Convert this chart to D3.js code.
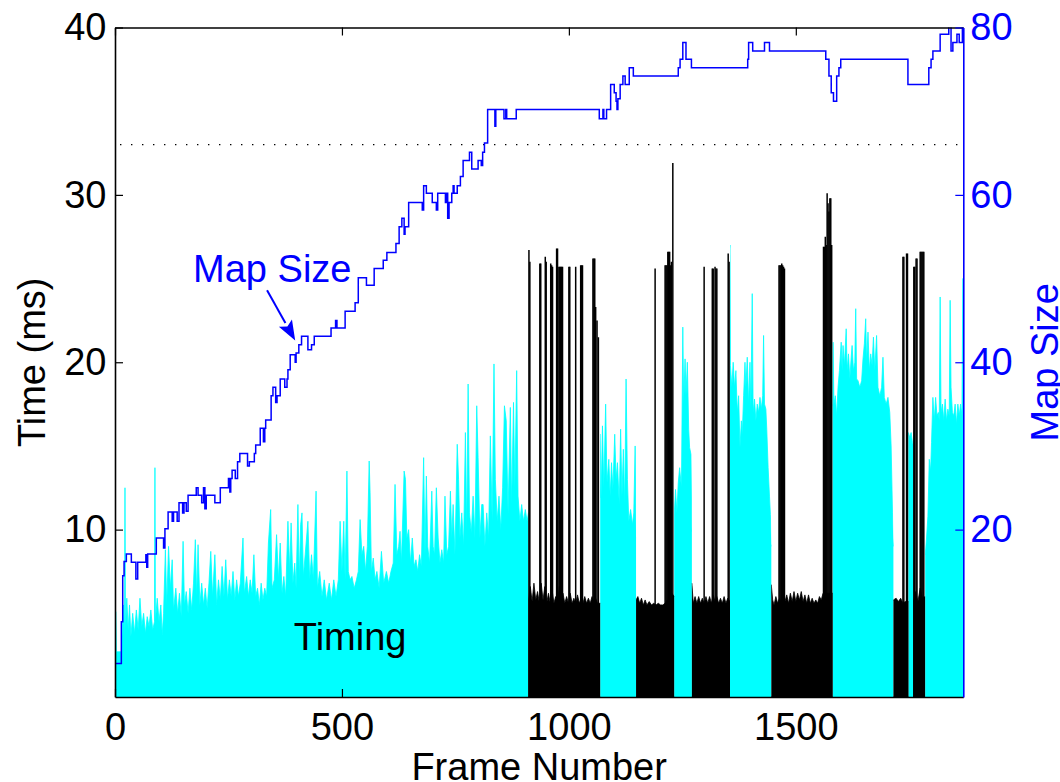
<!DOCTYPE html>
<html>
<head>
<meta charset="utf-8">
<script src="https://cdnjs.cloudflare.com/ajax/libs/d3/7.8.5/d3.min.js"></script>
<style>
  body { margin: 0; background: #fff; }
  svg text { font-family: "Liberation Sans", Arial, Helvetica, sans-serif; }
</style>
</head>
<body>
<svg id="chart" width="1060" height="782"></svg>
<script>
// ---- data (frame number, value) ----

// stretches of the timing trace drawn cyan / black
var cyanSegments = [[0, 911], [1069, 1148], [1232, 1271], [1355, 1446], [1581, 1715], [1748, 1759], [1785, 1869]];
var blackSegments = [[911, 1069], [1148, 1232], [1271, 1355], [1446, 1581], [1715, 1748], [1759, 1785]];

// cyan timing trace (ms), peaks and valleys
var cyanTiming = [
  [0,5.1],[2,5.1],[3,2.7],[14,2.7],[16,4],[19,5.5],[21,3.5],[22,12.5],[23,4],[26,5.9],[29,4],[32,5.5],[35,3.6],[39,5.0],
  [43,3.8],[47,5.2],[51,4],[55,5.9],[59,4.2],[63,5.0],[67,3.8],[71,4.8],[75,4.2],[79,5.2],[83,4.0],[87,4.5],[88,13.7],
  [89,4.5],[93,5.9],[97,4.5],[101,5.5],[104,3.7],[107,5.0],[111,8.8],[114,5.5],[118,9.0],[122,6.5],[126,8.2],[129,5.2],
  [134,6.5],[138,5.0],[142,6.2],[146,4.8],[150,9.3],[153,5.5],[157,6.3],[161,5.0],[165,6.5],[169,5.2],[173,6.8],[177,9.4],
  [180,6.0],[183,9.1],[187,5.5],[191,6.8],[195,5.5],[199,6.5],[203,5.3],[207,6.8],[211,8.7],[215,6.0],[220,8.5],[224,5.5],
  [228,7.0],[232,5.8],[236,7.8],[240,6.0],[244,8.2],[248,5.8],[252,7.0],[256,6.0],[260,7.5],[264,5.8],[268,7.0],[272,6.0],
  [276,6.8],[282,9.5],[285,6.2],[290,7.2],[294,6.0],[298,7.0],[302,6.2],[306,8.5],[310,6.0],[314,6.5],[318,5.5],[322,6.8],
  [326,5.8],[330,6.5],[334,6.0],[338,9.2],[343,11.2],[346,6.5],[351,7.0],[356,9.7],[360,7.0],[364,9.2],[368,6.2],[372,7.2],
  [376,6.0],[381,10.5],[385,7.5],[388,10.4],[392,6.8],[396,8.0],[399,6.5],[403,11.5],[406,7.0],[409,10.3],[412,11.0],
  [415,7.2],[419,8.5],[425,10.5],[429,7.0],[433,8.5],[437,7.0],[443,12.3],[446,6.5],[451,7.5],[456,6.0],[461,7.0],[466,5.8],
  [472,6.8],[477,5.8],[482,7.0],[487,6.0],[492,7.0],[496,10.5],[500,7.5],[504,10.5],[507,7.0],[511,13.5],[514,7.5],[518,7.0],
  [522,7.2],[527,6.5],[532,7.0],[536,7.5],[540,10.6],[544,8.5],[548,9.0],[552,7.5],[556,9.0],[560,14.1],[562,12.2],[565,7.5],
  [569,8.3],[573,7.0],[577,7.5],[582,6.5],[587,8.7],[592,6.8],[598,7.5],[603,6.8],[608,7.5],[613,8.0],[617,12.7],[621,8.5],
  [625,9.0],[628,9.9],[631,8.0],[637,13.5],[640,13.0],[643,9.5],[647,10.0],[651,8.0],[655,9.5],[659,7.8],[663,8.2],[667,7.5],
  [671,8.5],[675,7.8],[680,14.3],[683,8.5],[686,13.2],[689,9.0],[693,8.0],[698,12.3],[701,9.0],[704,8.5],[708,12.5],[712,9.5],
  [716,8.0],[720,8.8],[724,8.0],[727,12.0],[731,8.5],[735,9.0],[739,12.3],[742,9.5],[745,11.5],[749,8.5],[754,15.1],[757,13.0],
  [760,9.5],[764,11.0],[768,9.0],[772,15.8],[775,10.0],[778,18.7],[781,11.0],[785,9.8],[789,12.0],[793,9.5],[797,17.4],
  [800,14.3],[804,9.5],[808,11.5],[811,11.5],[815,9.0],[819,11.0],[823,9.5],[827,15.6],[831,10.5],[835,19.9],[838,13.0],
  [842,10.5],[846,12.0],[850,10.0],[854,12.5],[858,17.4],[862,16.5],[866,11.0],[871,17.3],[874,11.5],[878,17.6],[881,12.5],
  [885,19.5],[888,12.0],[892,10.5],[896,11.5],[900,10.5],[904,11.2],[908,10.5],[911,11.0],
  [1069,15.7],[1071,11.9],[1074,16.2],[1077,12.5],[1081,17.5],[1084,12.8],[1088,14.2],[1091,12.0],[1094,14.0],[1097,12.4],
  [1101,15.7],[1104,13.0],[1107,14.0],[1111,11.5],[1114,16.0],[1117,12.0],[1120,14.8],[1123,11.5],[1126,19.0],[1129,13.0],
  [1132,10.5],[1136,11.2],[1140,10.3],[1143,11.0],[1146,15.0],[1148,9.5],
  [1232,10.9],[1235,12.4],[1238,11.0],[1241,12.8],[1244,13.7],[1248,12.5],[1251,22.1],[1253,17.5],[1256,20.2],[1258,18.0],
  [1261,20.0],[1264,16.0],[1266,14.9],[1269,14.5],[1271,9.9],
  [1355,27.0],[1356,19.8],[1359,18.5],[1362,20.0],[1365,18.5],[1368,19.5],[1371,17.0],[1374,18.0],[1377,14.9],[1380,16.5],
  [1382,15.7],[1385,18.0],[1388,20.0],[1390,18.5],[1393,20.3],[1396,17.5],[1399,20.0],[1401,17.3],[1404,24.1],[1406,17.0],
  [1409,17.8],[1412,16.5],[1415,17.5],[1418,17.0],[1421,17.9],[1424,17.2],[1427,18.0],[1429,21.6],[1431,17.5],[1434,17.2],
  [1436,16.0],[1439,13.7],[1442,12.0],[1444,10.9],[1446,9.0],
  [1581,17.5],[1582,21.2],[1584,17.5],[1587,18.0],[1590,16.8],[1593,18.5],[1596,19.5],[1600,21.2],[1602,19.5],[1604,21.0],
  [1607,19.8],[1611,22.0],[1613,19.5],[1616,20.5],[1619,19.0],[1622,20.3],[1624,21.0],[1627,19.5],[1630,20.0],[1632,23.2],
  [1634,19.0],[1637,18.9],[1641,18.5],[1645,18.9],[1648,20.2],[1651,21.1],[1654,22.6],[1656,20.0],[1659,21.8],[1662,19.5],
  [1665,20.5],[1668,19.8],[1671,21.5],[1674,19.5],[1678,21.6],[1681,18.5],[1685,18.0],[1689,18.5],[1692,20.3],[1695,17.9],
  [1699,17.5],[1703,17.9],[1707,17.0],[1710,15.0],[1713,11.0],[1715,9.0],
  [1748,15.8],[1751,15.5],[1754,15.8],[1757,15.2],[1759,15.0],
  [1785,8.5],[1788,9.5],[1791,10.8],[1794,14.2],[1797,13.5],[1799,15.2],[1802,17.9],[1805,16.5],[1808,17.9],[1811,16.8],
  [1814,17.0],[1816,16.5],[1818,23.9],[1820,17.0],[1823,17.5],[1826,16.5],[1829,17.8],[1832,16.5],[1835,17.2],[1838,16.8],
  [1840,23.7],[1842,18.5],[1845,17.0],[1848,16.8],[1851,17.5],[1854,16.3],[1857,17.5],[1860,16.8],[1863,17.5],[1866,16.8],
  [1868,25.0],[1869,25.0]
];

// black timing trace (ms), dense floor
var blackTiming = [
  [911,5.8],[915,6.6],[919,5.7],[923,6.8],[927,5.8],[931,6.3],[935,5.6],[939,6.8],[943,5.8],[947,6.6],[951,5.6],[955,6.2],
  [959,5.6],[963,6.4],[967,5.6],[971,6.0],[975,5.6],[979,6.6],[983,5.7],[987,6.2],[991,5.6],[995,6.0],[999,5.6],[1003,6.2],
  [1007,5.6],[1011,5.9],[1015,5.6],[1019,6.1],[1023,5.6],[1027,5.9],[1031,5.6],[1035,6.0],[1039,5.6],[1043,5.9],[1047,5.6],
  [1051,6.0],[1055,5.7],[1059,5.9],[1063,5.6],[1069,5.6],
  [1148,5.8],[1152,6.0],[1156,5.6],[1160,5.9],[1164,5.5],[1168,5.8],[1172,5.5],[1177,5.7],[1182,5.5],[1187,5.6],[1192,5.5],
  [1197,5.6],[1202,5.5],[1207,5.5],[1212,5.6],[1217,5.8],[1222,5.7],[1227,6.2],[1232,6.0],
  [1271,6.8],[1274,5.6],[1278,6.0],[1282,5.6],[1286,6.0],[1290,5.6],[1294,5.9],[1298,5.6],[1302,6.0],[1306,5.6],[1310,6.0],
  [1314,5.6],[1318,6.1],[1322,5.7],[1326,6.0],[1330,5.6],[1334,5.9],[1338,5.6],[1342,6.0],[1346,5.6],[1350,5.9],[1355,5.7],
  [1446,6.7],[1449,5.8],[1452,5.5],[1456,6.0],[1460,5.6],[1464,5.9],[1468,5.6],[1472,6.0],[1476,5.7],[1480,6.1],[1484,5.6],
  [1488,6.2],[1492,5.7],[1496,6.3],[1500,5.7],[1504,6.2],[1508,5.8],[1512,6.3],[1516,5.7],[1520,6.1],[1524,5.6],[1528,6.1],
  [1532,5.6],[1536,5.9],[1540,5.6],[1544,5.8],[1548,5.6],[1552,6.0],[1556,5.8],[1560,6.2],[1581,6.2],
  [1715,5.8],[1721,5.9],[1726,5.7],[1731,5.9],[1736,5.6],[1741,5.7],[1748,5.7],
  [1759,5.7],[1764,6.3],[1769,5.7],[1774,6.5],[1779,5.9],[1785,6.0]
];

// tall black spikes (ms)
var blackSpikes = [
  [912,26.7],[914,26.0],[936,25.9],[938,25.9],[948,26.3],[950,26.0],[960,25.9],[962,25.8],[964,25.7],[973,26.8],[975,26.8],
  [978,25.7],[980,25.7],[982,25.7],[984,25.7],[986,25.7],[1000,25.7],[1002,25.7],[1015,25.7],[1026,25.8],[1028,25.8],
  [1030,25.8],[1053,26.2],[1055,26.2],[1057,26.2],[1059,23.3],[1062,22.5],[1065,21.5],
  [1190,25.6],[1212,25.8],[1214,25.8],[1216,25.8],[1218,26.6],[1220,26.6],[1222,26.6],[1224,25.8],[1226,26.0],[1229,31.9],
  [1298,25.7],[1316,25.6],[1318,25.6],[1322,25.7],[1324,25.6],[1326,25.6],[1351,26.5],[1353,26.0],
  [1463,25.8],[1465,25.8],[1467,25.8],[1469,25.9],[1471,25.8],[1473,25.7],[1475,25.6],
  [1561,26.9],[1563,26.9],[1565,27.5],[1567,27.0],[1569,30.1],[1571,29.5],[1573,29.0],[1575,29.8],[1577,29.8],[1579,27.0],
  [1736,26.3],[1738,26.3],[1744,26.5],[1746,26.5],
  [1760,25.7],[1762,25.7],[1765,26.2],[1767,26.2],[1774,26.6],[1776,26.6],[1778,26.6],[1780,26.6],[1782,26.6]
];

// map size, step changes (frame, size)
var mapSize = [
  [0,4.0],[14,9],[17,14.5],[20,16.2],[25,17.1],[36,16.1],[46,14.1],[50,16.1],[68,17.0],[70,15.5],[72,17.1],[91,19.0],
  [107,17.8],[110,20.1],[117,22.1],[126,21.0],[129,22.1],[137,21.0],[141,23.2],[149,22.0],[152,23.2],[157,22.2],[161,24.1],
  [179,25.0],[183,24.1],[191,23.2],[195,25.0],[198,22.5],[201,24.1],[220,23.2],[232,25.0],[250,26.1],[253,24.5],[255,26.1],
  [258,27.1],[265,26.1],[270,28.1],[275,29.1],[292,27.6],[296,28.1],[307,29.1],[310,30.1],[320,32.1],[327,30.5],[330,32.1],
  [332,33.1],[344,36.0],[348,37.0],[354,35.2],[357,36.0],[364,38.0],[374,37.0],[379,38.0],[381,39.1],[386,40.9],[397,40.0],
  [399,41.1],[405,42.1],[411,43.1],[425,41.5],[433,42.1],[439,43.1],[476,44.1],[486,45.0],[489,44.1],[507,46.1],[529,47.1],
  [536,50.1],[554,49.2],[571,51.2],[591,52.2],[599,53.1],[619,54.2],[626,56.2],[632,57.2],[637,55.3],[639,56.2],[647,59.1],
  [677,58.2],[680,61.1],[686,60.2],[699,59.1],[708,58.2],[711,60.2],[728,59.1],[730,60.2],[733,57.2],[736,59.1],[742,60.2],
  [745,61.1],[747,60.2],[754,61.1],[761,62.2],[767,64.1],[781,65.1],[786,63.1],[800,64.1],[807,63.5],[810,65.1],[814,66.2],
  [821,70.2],[837,68.2],[839,70.2],[857,69.1],[861,70.2],[863,69.1],[884,70.2],[1067,69.1],[1075,70.2],[1077,69.1],
  [1083,70.2],[1092,73.2],[1100,72.2],[1104,71.2],[1106,70.2],[1108,71.5],[1113,73.2],[1119,74.2],[1124,73.2],[1133,75.2],
  [1142,74.2],[1241,75.2],[1245,76.2],[1251,78.2],[1258,76.2],[1270,75.2],[1394,76.2],[1396,78.2],[1405,77.2],[1431,78.2],
  [1442,77.2],[1566,76.2],[1573,74.2],[1578,72.2],[1583,71.2],[1590,74.2],[1595,75.2],[1599,76.2],[1747,73.2],[1793,75.2],
  [1798,76.2],[1802,77.2],[1818,79.2],[1837,80.2],[1842,77.2],[1846,78.2],[1855,79.2],[1860,78.2],[1867,80],[1869,80]
];

var frameTicks = [0, 500, 1000, 1500];
var timeTicks = [10, 20, 30, 40];
var sizeTicks = [20, 40, 60, 80];
var frameBudget = 33;   // dotted reference line, ms

(function() {
    // ---- layout ----
    var plotLeft = 115, plotRight = 963.3, plotTop = 27.5, plotBottom = 697;
    var fontSize = "38px";

    var x = d3.scaleLinear().domain([0, 1869]).range([plotLeft, plotRight]);
    var yL = d3.scaleLinear().domain([0, 40]).range([plotBottom, plotTop]);
    var yR = d3.scaleLinear().domain([0, 80]).range([plotBottom, plotTop]);

    var svg = d3.select("#chart");
    var defs = svg.append("defs");

    defs.append("clipPath").attr("id", "plotClip")
        .append("rect")
        .attr("x", plotLeft).attr("y", plotTop)
        .attr("width", plotRight - plotLeft).attr("height", plotBottom - plotTop);

    function segmentClip(id, segs) {
        defs.append("clipPath").attr("id", id)
            .selectAll("rect")
            .data(segs)
            .enter()
            .append("rect")
            .attr("x", function(d) { return x(d[0]); })
            .attr("width", function(d) { return x(d[1]) - x(d[0]); })
            .attr("y", plotTop)
            .attr("height", plotBottom - plotTop);
    }
    segmentClip("cyanClip", cyanSegments);
    segmentClip("blackClip", blackSegments);

    var plot = svg.append("g").attr("clip-path", "url(#plotClip)");

    var timingArea = d3.area()
        .x(function(d) { return x(d[0]); })
        .y0(yL(0))
        .y1(function(d) { return yL(d[1]); });

    // cyan timing
    plot.append("g").attr("clip-path", "url(#cyanClip)")
        .append("path")
        .datum(cyanTiming)
        .attr("d", timingArea)
        .attr("fill", "#00ffff")
        .attr("stroke", "#00ffff")
        .attr("stroke-width", 0.8);

    // black timing floor
    plot.append("g").attr("clip-path", "url(#blackClip)")
        .append("path")
        .datum(blackTiming)
        .attr("d", timingArea)
        .attr("fill", "#000")
        .attr("stroke", "#000")
        .attr("stroke-width", 0.8);

    // black spikes
    plot.selectAll("line.spike")
        .data(blackSpikes)
        .enter()
        .append("line")
        .attr("class", "spike")
        .attr("x1", function(d) { return x(d[0]); })
        .attr("x2", function(d) { return x(d[0]); })
        .attr("y1", yL(0))
        .attr("y2", function(d) { return yL(d[1]); })
        .attr("stroke", "#000")
        .attr("stroke-width", 1.5);

    // dotted 33 ms line
    plot.append("line")
        .attr("x1", plotLeft).attr("x2", plotRight)
        .attr("y1", yL(frameBudget)).attr("y2", yL(frameBudget))
        .attr("stroke", "#000")
        .attr("stroke-width", 1.4)
        .attr("stroke-dasharray", "1.4,9.6")
        .attr("stroke-dashoffset", -5);

    // map size line
    var mapLine = d3.line()
        .x(function(d) { return x(d[0]); })
        .y(function(d) { return yR(d[1]); })
        .curve(d3.curveStepAfter);

    plot.append("path")
        .datum(mapSize)
        .attr("d", mapLine)
        .attr("fill", "none")
        .attr("stroke", "#0000ff")
        .attr("stroke-width", 1.5);

    // ---- axes ----
    function styleAxis(g, color) {
        g.select(".domain").attr("stroke", color).attr("stroke-width", 1.6);
        g.selectAll(".tick line").attr("stroke", color).attr("stroke-width", 1.2);
        g.selectAll(".tick text")
            .attr("fill", color)
            .attr("font-size", fontSize)
            .attr("font-family", '"Liberation Sans", Arial, Helvetica, sans-serif');
    }

    var fmt = d3.format("d");

    svg.append("g")
        .attr("transform", "translate(0," + plotBottom + ")")
        .call(d3.axisBottom(x).tickValues(frameTicks).tickFormat(fmt).tickSize(-8).tickSizeOuter(0).tickPadding(16))
        .call(styleAxis, "#000");

    svg.append("g")
        .attr("transform", "translate(0," + plotTop + ")")
        .call(d3.axisTop(x).tickValues(frameTicks).tickSize(-8).tickSizeOuter(0).tickFormat(""))
        .call(styleAxis, "#000");

    svg.append("g")
        .attr("transform", "translate(" + plotLeft + ",0)")
        .call(d3.axisLeft(yL).tickValues(timeTicks).tickFormat(fmt).tickSize(-8).tickSizeOuter(0).tickPadding(8.5))
        .call(styleAxis, "#000");

    svg.append("g")
        .attr("transform", "translate(" + plotRight + ",0)")
        .call(d3.axisRight(yR).tickValues(sizeTicks).tickFormat(fmt).tickSize(-8).tickSizeOuter(0).tickPadding(7))
        .call(styleAxis, "#0000ff");

    // ---- axis titles ----
    var midY = (plotTop + plotBottom) / 2;

    svg.append("text")
        .attr("x", (plotLeft + plotRight) / 2)
        .attr("y", 780)
        .attr("text-anchor", "middle")
        .attr("font-size", fontSize)
        .text("Frame Number");

    svg.append("text")
        .attr("transform", "translate(45," + midY + ") rotate(-90)")
        .attr("text-anchor", "middle")
        .attr("font-size", fontSize)
        .text("Time (ms)");

    svg.append("text")
        .attr("transform", "translate(1058," + midY + ") rotate(-90)")
        .attr("text-anchor", "middle")
        .attr("font-size", fontSize)
        .attr("fill", "#0000ff")
        .text("Map Size");

    // ---- annotations ----
    svg.append("text")
        .attr("x", x(394))
        .attr("y", yL(2.8))
        .attr("font-size", fontSize)
        .attr("fill", "#000")
        .text("Timing");

    svg.append("text")
        .attr("x", x(172))
        .attr("y", yR(49.6))
        .attr("font-size", fontSize)
        .attr("fill", "#0000ff")
        .text("Map Size");

    // arrow pointing at the map size curve
    var tail = [x(335), yR(48.6)];
    var tip = [x(397), yR(42.6)];
    var dx = tip[0] - tail[0], dy = tip[1] - tail[1];
    var len = Math.sqrt(dx * dx + dy * dy);
    var ux = dx / len, uy = dy / len;
    var headLen = 20, headHalf = 7.5;
    var base = [tip[0] - ux * headLen, tip[1] - uy * headLen];

    svg.append("line")
        .attr("x1", tail[0]).attr("y1", tail[1])
        .attr("x2", base[0]).attr("y2", base[1])
        .attr("stroke", "#0000ff")
        .attr("stroke-width", 2);

    svg.append("polygon")
        .attr("points", [
            tip,
            [base[0] - uy * headHalf, base[1] + ux * headHalf],
            [base[0] + ux * 4, base[1] + uy * 4],
            [base[0] + uy * headHalf, base[1] - ux * headHalf]
        ].map(function(p) { return p.join(","); }).join(" "))
        .attr("fill", "#0000ff");
})();
</script>
</body>
</html>
